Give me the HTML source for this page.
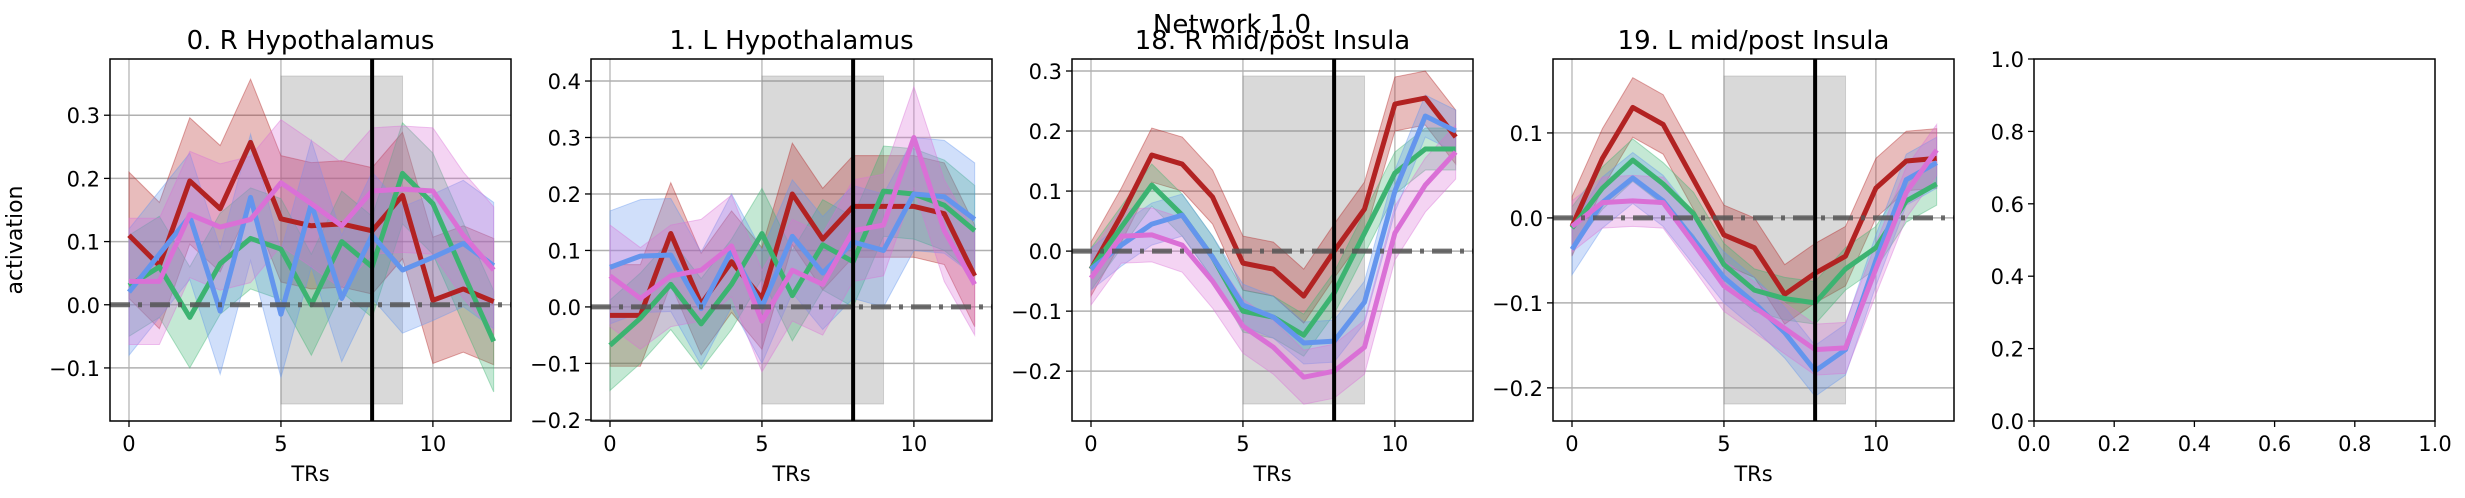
<!DOCTYPE html>
<html><head><meta charset="utf-8">
<style>
html,body{margin:0;padding:0;background:#fff;}
svg{display:block;font-family:"DejaVu Sans","Liberation Sans",sans-serif;}
</style></head>
<body>
<svg id="fig" width="2465" height="498" viewBox="0 0 2465 498" xmlns="http://www.w3.org/2000/svg">
<text x="1232" y="33" font-size="26" text-anchor="middle">Network 1.0</text>
<text x="22" y="240" font-size="22" text-anchor="middle" transform="rotate(-90 22 240)">activation</text>
</svg>
<script>
const xs = [0,1,2,3,4,5,6,7,8,9,10,11,12];
const titles = ["0. R Hypothalamus","1. L Hypothalamus","18. R mid/post Insula","19. L mid/post Insula"];
const yRanges = [[-0.184,0.389],[-0.202,0.439],[-0.283,0.32],[-0.239,0.187]];
const yTicks = [[-0.1,0.0,0.1,0.2,0.3],[-0.2,-0.1,0.0,0.1,0.2,0.3,0.4],[-0.2,-0.1,0.0,0.1,0.2,0.3],[-0.2,-0.1,0.0,0.1]];
const xTicks = [0,5,10];
const emptyTicks = [0.0,0.2,0.4,0.6,0.8,1.0];
const seriesNames = ["red","green","blue","pink"];
const seriesColors = ["#b22222","#3cb371","#6495ed","#da70d6"];
const p0red   = [0.11,0.062,0.196,0.152,0.257,0.136,0.125,0.128,0.117,0.173,0.007,0.025,0.005];
const p0green = [0.03,0.06,-0.02,0.065,0.105,0.088,0.0,0.1,0.06,0.208,0.16,0.05,-0.058];
const p0blue  = [0.02,0.08,0.14,-0.01,0.17,-0.015,0.16,0.01,0.11,0.055,0.075,0.097,0.062];
const p0pink  = [0.037,0.037,0.143,0.123,0.135,0.193,0.16,0.125,0.18,0.183,0.18,0.11,0.055];
const p1red   = [-0.015,-0.015,0.13,0.005,0.08,0.015,0.2,0.12,0.178,0.178,0.178,0.165,0.055];
const p1green = [-0.068,-0.02,0.04,-0.03,0.04,0.13,0.02,0.11,0.08,0.205,0.2,0.18,0.135];
const p1blue  = [0.07,0.09,0.092,-0.003,0.1,0.0,0.125,0.06,0.115,0.1,0.2,0.195,0.155];
const p1pink  = [0.055,0.015,0.055,0.065,0.108,-0.025,0.065,0.04,0.135,0.145,0.3,0.135,0.04];
const p2red   = [-0.03,0.06,0.16,0.145,0.09,-0.02,-0.03,-0.075,0.0,0.07,0.245,0.255,0.19];
const p2green = [-0.03,0.04,0.11,0.06,-0.01,-0.1,-0.11,-0.14,-0.07,0.03,0.13,0.17,0.17];
const p2blue  = [-0.03,0.01,0.045,0.06,-0.01,-0.09,-0.11,-0.153,-0.15,-0.085,0.1,0.225,0.2];
const p2pink  = [-0.045,0.025,0.027,0.01,-0.05,-0.125,-0.16,-0.21,-0.2,-0.16,0.03,0.11,0.165];
const p3red   = [-0.01,0.07,0.13,0.11,0.045,-0.02,-0.035,-0.09,-0.065,-0.045,0.035,0.067,0.07];
const p3green = [-0.012,0.035,0.068,0.04,0.005,-0.055,-0.085,-0.095,-0.1,-0.06,-0.035,0.02,0.04];
const p3blue  = [-0.037,0.018,0.047,0.02,-0.025,-0.07,-0.1,-0.135,-0.18,-0.155,-0.05,0.045,0.065];
const p3pink  = [-0.01,0.018,0.02,0.018,-0.03,-0.08,-0.105,-0.13,-0.155,-0.153,-0.06,0.03,0.08];
const errs = [[0.1,0.08,0.1,0.1],[0.09,0.08,0.1,0.09],[0.045,0.035,0.035,0.045],[0.035,0.025,0.03,0.03]];
const panelData = [[p0red,p0green,p0blue,p0pink],[p1red,p1green,p1blue,p1pink],[p2red,p2green,p2blue,p2pink],[p3red,p3green,p3blue,p3pink]];
const blockStart = 5, blockEnd = 9, markerTR = 8;

const NS = "http://www.w3.org/2000/svg";
const svg = document.getElementById('fig');
const L0 = 110, STEP = 481, W = 401, TOP = 59, BOT = 421;
function mk(tag, attrs, parent){const e=document.createElementNS(NS,tag);for(const k in attrs)e.setAttribute(k,attrs[k]);(parent||svg).appendChild(e);return e;}
function fmt(v){return (v<0?"\u2212":"")+Math.abs(v).toFixed(1);}

for(let p=0;p<5;p++){
  const left = L0 + p*STEP, right = left + W;
  const g = mk('g',{});
  
  
  if(p===4){
    const sx=v=>left+v*W, sy=v=>BOT-v*(BOT-TOP);
    emptyTicks.forEach(t=>{
      mk('line',{x1:left-6,x2:left,y1:sy(t),y2:sy(t),stroke:'#000','stroke-width':1.3},g);
      const ty=mk('text',{x:left-10,y:sy(t)+8,'font-size':21,'text-anchor':'end'},g);ty.textContent=t.toFixed(1);
      
      
      mk('line',{x1:sx(t),x2:sx(t),y1:BOT,y2:BOT+6,stroke:'#000','stroke-width':1.3},g);
      const tx=mk('text',{x:sx(t),y:BOT+30,'font-size':21,'text-anchor':'middle'},g);tx.textContent=t.toFixed(1);
      
      
    });
    mk('rect',{x:left,y:TOP,width:W,height:BOT-TOP,fill:'none',stroke:'#000','stroke-width':1.5},g);
    continue;
  }
  const [ymin,ymax]=yRanges[p];
  const sx=v=>left+(v+0.625)/(13.195)*W;
  const sy=v=>BOT-(v-ymin)/(ymax-ymin)*(BOT-TOP);
  const clip=mk('clipPath',{id:'c'+p},g);mk('rect',{x:left,y:TOP,width:W,height:BOT-TOP},clip);
  const inner=mk('g',{'clip-path':'url(#c'+p+')'},g);
  // grid
  yTicks[p].forEach(t=>mk('line',{x1:left,x2:right,y1:sy(t),y2:sy(t),stroke:'#b0b0b0','stroke-width':1.5},inner));
  xTicks.forEach(t=>mk('line',{x1:sx(t),x2:sx(t),y1:TOP,y2:BOT,stroke:'#b0b0b0','stroke-width':1.2},inner));
  // block
  const blk=mk('rect',{x:sx(blockStart),y:76,width:sx(blockEnd)-sx(blockStart),height:328,fill:'#808080','fill-opacity':0.3,stroke:'#808080','stroke-opacity':0.3},inner);
  
  
  // bands
  panelData[p].forEach((arr,si)=>{
    const e=errs[p][si];
    let d='M'+xs.map((x,i)=>sx(x)+','+sy(arr[i]+e)).join(' L');
    d+=' L'+xs.slice().reverse().map((x,j)=>{const i=12-j;return sx(x)+','+sy(arr[i]-e);}).join(' L')+'Z';
    const b=mk('path',{d:d,fill:seriesColors[si],'fill-opacity':0.3,stroke:seriesColors[si],'stroke-opacity':0.4},inner);
    
    
  });
  panelData[p].forEach((arr,si)=>{
    const l=mk('polyline',{points:xs.map((x,i)=>sx(x)+','+sy(arr[i])).join(' '),fill:'none',stroke:seriesColors[si],'stroke-width':5,'stroke-linejoin':'round'},inner);
    
    
  });
  const z=mk('line',{x1:left,x2:right,y1:sy(0),y2:sy(0),stroke:'#555','stroke-opacity':0.85,'stroke-width':5,'stroke-dasharray':'20 8 4 8'},inner);
  
  
  const m=mk('line',{x1:sx(markerTR),x2:sx(markerTR),y1:TOP,y2:BOT,stroke:'#000','stroke-width':4},inner);
  
  
  mk('rect',{x:left,y:TOP,width:W,height:BOT-TOP,fill:'none',stroke:'#000','stroke-width':1.5},g);
  yTicks[p].forEach(t=>{
    mk('line',{x1:left-6,x2:left,y1:sy(t),y2:sy(t),stroke:'#000','stroke-width':1.3},g);
    const ty=mk('text',{x:left-10,y:sy(t)+8,'font-size':21,'text-anchor':'end'},g);ty.textContent=fmt(t);
    
    
  });
  xTicks.forEach(t=>{
    mk('line',{x1:sx(t),x2:sx(t),y1:BOT,y2:BOT+6,stroke:'#000','stroke-width':1.3},g);
    const tx=mk('text',{x:sx(t),y:BOT+30,'font-size':21,'text-anchor':'middle'},g);tx.textContent=t;
    
    
  });
  const xl=mk('text',{x:left+W/2,y:BOT+60,'font-size':21,'text-anchor':'middle'},g);xl.textContent='TRs';
  
  
  const ti=mk('text',{x:left+W/2,y:49,'font-size':26,'text-anchor':'middle'},g);ti.textContent=titles[p];
  
  
}
</script>
</body></html>
